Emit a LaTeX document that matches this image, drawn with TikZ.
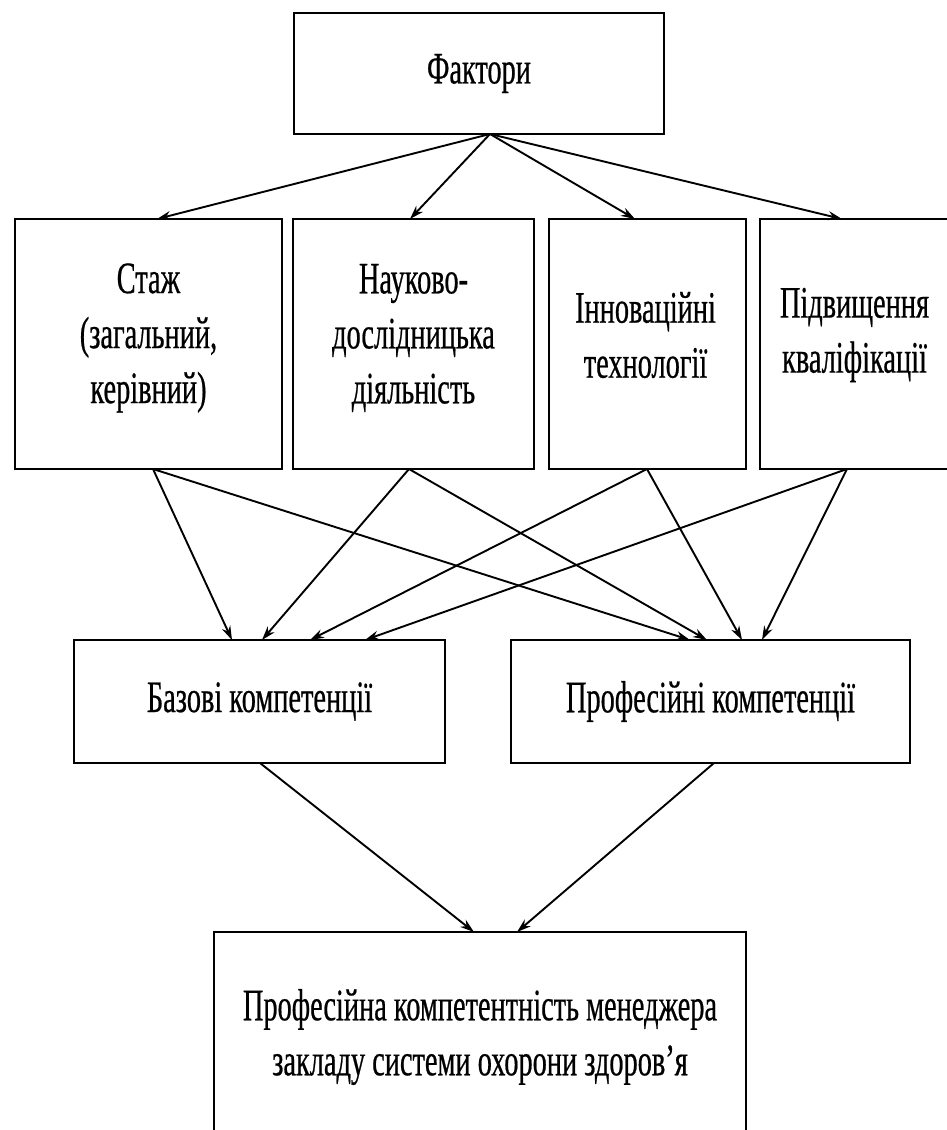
\documentclass[tikz,border=0pt]{standalone}
\usepackage{fontspec}
\setmainfont{Liberation Serif}[FakeStretch=0.63,FakeBold=0.5]
\usetikzlibrary{arrows.meta}
\begin{document}
\begin{tikzpicture}[x=1pt,y=-1pt,
  box/.style={draw=black, line width=2.3pt, fill=white, inner sep=0pt, outer sep=0pt},
  txt/.style={inner sep=0pt, align=center, font=\fontsize{45}{55}\selectfont},
  conn/.style={line width=1.9pt, -{Stealth[length=14pt,width=9pt]}}]
\fill[white] (0,0) rectangle (947,1130);
\useasboundingbox (0,0) rectangle (947,1130);

\node[box, txt, minimum width=370pt, minimum height=121pt] (fak) at (479,73.5) {Фактори};

\node[box, minimum width=267pt, minimum height=250pt] (b1) at (148.5,344) {};
\node[box, minimum width=241pt, minimum height=250pt] (b2) at (413.5,344) {};
\node[box, minimum width=197pt, minimum height=250pt] (b3) at (647.5,344) {};
\node[box, minimum width=189pt, minimum height=250pt] (b4) at (854.5,344) {};
\node[txt] (t1) at ([yshift=6pt]b1.center) {Стаж\\(загальний,\\керівний)};
\node[txt] (t2) at ([yshift=6pt]b2.center) {Науково-\\дослідницька\\діяльність};
\node[txt] (t3) at ([xshift=-2pt,yshift=9pt]b3.center) {Інноваційні\\технології};
\node[txt] (t4) at ([yshift=9pt]b4.center) {Підвищення\\кваліфікації};

\node[box, txt, minimum width=371pt, minimum height=123pt] (bas) at (259.5,701.5) {Базові компетенції};
\node[box, txt, minimum width=399pt, minimum height=123pt] (prof) at (710.5,701.5) {Професійні компетенції};

\node[box, txt, minimum width=532pt, minimum height=210pt] (res) at (480,1037) {Професійна компетентність менеджера\\закладу системи охорони здоров’я};

\coordinate (fo) at ([xshift=11pt]fak.south);
\draw[conn] (fo) -- ([xshift=8.5pt]b1.north);
\draw[conn] (fo) -- ([xshift=-3.5pt]b2.north);
\draw[conn] (fo) -- ([xshift=-12.5pt]b3.north);
\draw[conn] (fo) -- ([xshift=-12.5pt]b4.north);

\draw[conn] ([xshift=4.5pt]b1.south) -- ([xshift=-27.5pt]bas.north);
\draw[conn] ([xshift=-4.5pt]b2.south) -- ([xshift=2.5pt]bas.north);
\draw[conn] ([xshift=-0.5pt]b3.south) -- ([xshift=50.5pt]bas.north);
\draw[conn] ([xshift=-7.5pt]b4.south) -- ([xshift=105.5pt]bas.north);

\draw[conn] ([xshift=4.5pt]b1.south) -- ([xshift=-20.5pt]prof.north);
\draw[conn] ([xshift=-4.5pt]b2.south) -- ([xshift=-3.5pt]prof.north);
\draw[conn] ([xshift=-0.5pt]b3.south) -- ([xshift=31.5pt]prof.north);
\draw[conn] ([xshift=-7.5pt]b4.south) -- ([xshift=51.5pt]prof.north);

\draw[conn] ([xshift=0.5pt]bas.south) -- ([xshift=-6pt]res.north);
\draw[conn] ([xshift=3.5pt]prof.south) -- ([xshift=37pt]res.north);
\end{tikzpicture}
\end{document}
